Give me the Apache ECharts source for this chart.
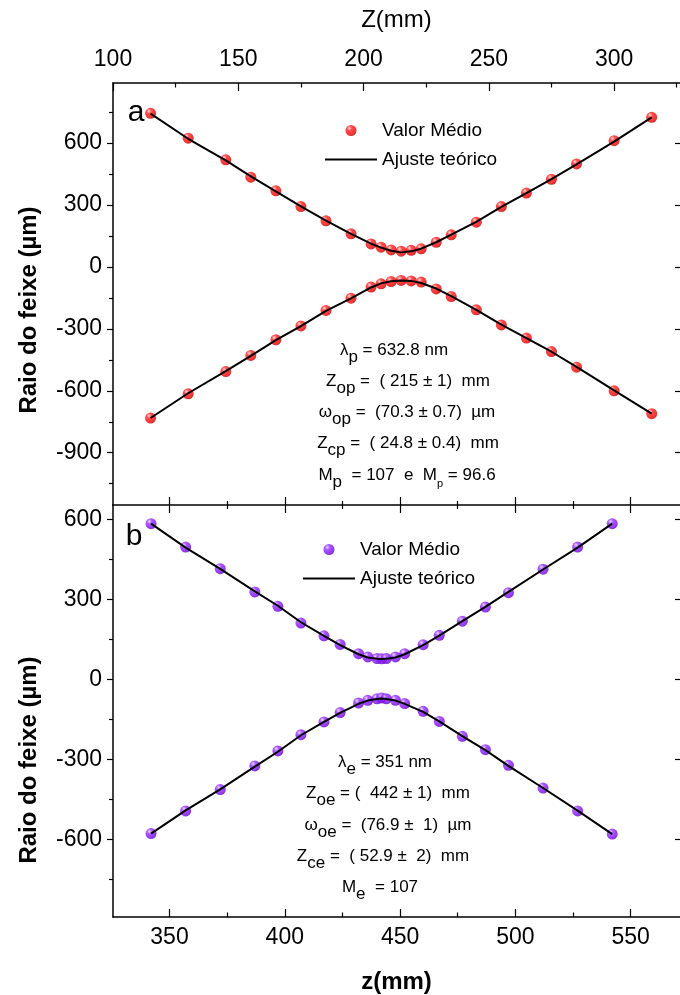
<!DOCTYPE html>
<html>
<head>
<meta charset="utf-8">
<script src="https://cdn.jsdelivr.net/npm/echarts@6/dist/echarts.min.js"></script>
<style>
html, body { margin: 0; padding: 0; background: #fff; }
#main { width: 680px; height: 995px; }
</style>
</head>
<body>
<div id="main"></div>
<script>
// painel a : Z (mm) no eixo de cima
var zA = [115, 130, 145, 155, 165, 175, 185, 195, 203, 207, 211, 215, 219, 223, 229, 235, 245, 255, 265, 275, 285, 300, 315];
var raioAUp = [743, 623, 518, 434, 368, 292, 223, 160, 111, 95, 82, 76, 80, 87, 119, 155, 216, 292, 357, 424, 498, 611, 724];
var raioALow = [-732, -615, -507, -429, -353, -286, -211, -152, -98, -82, -71, -66, -68, -74, -107, -144, -208, -281, -345, -410, -486, -600, -711];
var ajusteAUp = [742, 620, 515, 438, 365, 293, 224, 160, 112, 93, 78, 70, 75, 88, 119, 156, 218, 290, 357, 425, 496, 606, 724];
var ajusteALow = [-732, -612, -505, -431, -355, -287, -213, -153, -100, -80, -70, -66, -68, -78, -105, -142, -208, -280, -345, -411, -484, -598, -711];

// painel b : z (mm) no eixo de baixo
var zB = [342, 357, 372, 387, 397, 407, 417, 424, 432, 436, 440, 442, 444, 448, 452, 460, 467, 477, 487, 497, 512, 527, 542];
var raioBUp = [584, 496, 415, 328, 274, 211, 163, 131, 96, 84, 78, 77, 78, 84, 96, 130, 165, 218, 271, 325, 413, 496, 584];
var raioBLow = [-579, -494, -414, -325, -269, -208, -160, -125, -89, -79, -73, -70, -73, -79, -91, -120, -158, -214, -264, -323, -408, -494, -581];
var ajusteBUp = [584, 494, 414, 330, 276, 214, 163, 128, 94, 82, 77, 76, 77, 82, 94, 128, 164, 218, 272, 328, 412, 494, 584];
var ajusteBLow = [-579, -492, -413, -328, -272, -210, -160, -126, -92, -80, -74, -72, -74, -80, -92, -122, -158, -213, -266, -325, -408, -493, -581];

// ticks
var ticksTopMajor = [100, 150, 200, 250, 300];
var ticksTopMinor = [125, 175, 225, 275, 325];
var ticksBotMajor = [350, 400, 450, 500, 550];
var ticksBotMinor = [375, 425, 475, 525];
var ticksYAMajor = [-900, -600, -300, 0, 300, 600];
var ticksYAMinor = [-1050, -750, -450, -150, 150, 450, 750];
var ticksYBMajor = [-600, -300, 0, 300, 600];
var ticksYBMinor = [-750, -450, -150, 150, 450];

var FONT = '"Liberation Sans", Arial, sans-serif';
var BLACK = '#000';

var redBall = {
    type: 'radial', x: 0.35, y: 0.3, r: 0.75,
    colorStops: [
        {offset: 0, color: '#ffd6d6'}, {offset: 0.3, color: '#ff2020'},
        {offset: 0.8, color: '#ee0000'}, {offset: 1, color: '#a00000'}
    ]
};
var purpleBall = {
    type: 'radial', x: 0.35, y: 0.3, r: 0.75,
    colorStops: [
        {offset: 0, color: '#e6d2ff'}, {offset: 0.3, color: '#9530ff'},
        {offset: 0.8, color: '#7a08f0'}, {offset: 1, color: '#5000a8'}
    ]
};

function pairs(xs, ys) {
    return xs.map(function (x, i) { return [x, ys[i]]; });
}

// eixo so com tracinhos (sem linha, sem rotulo)
function tickOnly(grid, pos, min, max, values, len, inside) {
    return {
        type: 'value', gridIndex: grid, position: pos, min: min, max: max,
        axisLine: {show: false, onZero: false},
        axisTick: {show: true, inside: inside, length: len, customValues: values, lineStyle: {color: BLACK, width: 1.2}},
        axisLabel: {show: false},
        splitLine: {show: false}
    };
}

var labelStyle = {color: BLACK, fontSize: 23, fontFamily: FONT};
var lineStyle = {color: BLACK, width: 1.5};

var topMin = 100, topMax = 326.3;
var botMin = 325.5, botMax = 571.4;
var yAMin = -1153, yAMax = 890;
var yBMin = -892, yBMax = 654;

var xAxes = [
    {   // 0 : Z(mm) em cima
        type: 'value', gridIndex: 0, position: 'top', min: topMin, max: topMax,
        name: 'Z(mm)', nameLocation: 'middle', nameGap: 51,
        nameTextStyle: {color: BLACK, fontSize: 24, fontFamily: FONT},
        axisLine: {onZero: false, lineStyle: lineStyle},
        axisTick: {inside: true, length: 8, customValues: ticksTopMajor, lineStyle: {color: BLACK, width: 1.2}},
        axisLabel: Object.assign({customValues: ticksTopMajor, margin: 12}, labelStyle),
        splitLine: {show: false}
    },
    tickOnly(0, 'top', topMin, topMax, ticksTopMinor, 4.5, true),
    tickOnly(0, 'bottom', botMin, botMax, ticksBotMajor, 8, true),
    tickOnly(0, 'bottom', botMin, botMax, ticksBotMinor, 4, true),
    {   // 4 : z(mm) em baixo
        type: 'value', gridIndex: 1, position: 'bottom', min: botMin, max: botMax,
        name: 'z(mm)', nameLocation: 'middle', nameGap: 53,
        nameTextStyle: {color: BLACK, fontSize: 24, fontWeight: 'bold', fontFamily: FONT},
        axisLine: {onZero: false, lineStyle: lineStyle},
        axisTick: {inside: true, length: 8, customValues: ticksBotMajor, lineStyle: {color: BLACK, width: 1.2}},
        axisLabel: Object.assign({customValues: ticksBotMajor, margin: 9}, labelStyle),
        splitLine: {show: false}
    },
    tickOnly(1, 'bottom', botMin, botMax, ticksBotMinor, 4.5, true),
    {   // 6 : divisoria
        type: 'value', gridIndex: 1, position: 'top', min: botMin, max: botMax,
        axisLine: {onZero: false, lineStyle: lineStyle},
        axisTick: {inside: true, length: 8, customValues: ticksBotMajor, lineStyle: {color: BLACK, width: 1.2}},
        axisLabel: {show: false},
        splitLine: {show: false}
    },
    tickOnly(1, 'top', botMin, botMax, ticksBotMinor, 4, true)
];

var yAxes = [
    {
        type: 'value', gridIndex: 0, position: 'left', min: yAMin, max: yAMax,
        axisLine: {onZero: false, lineStyle: lineStyle},
        axisTick: {inside: false, length: 6, customValues: ticksYAMajor, lineStyle: {color: BLACK, width: 1.2}},
        axisLabel: Object.assign({customValues: ticksYAMajor, margin: 11}, labelStyle),
        splitLine: {show: false}
    },
    tickOnly(0, 'left', yAMin, yAMax, ticksYAMinor, 4, false),
    tickOnly(0, 'right', yAMin, yAMax, ticksYAMajor, 5, true),
    {
        type: 'value', gridIndex: 1, position: 'left', min: yBMin, max: yBMax,
        axisLine: {onZero: false, lineStyle: lineStyle},
        axisTick: {inside: false, length: 6, customValues: ticksYBMajor, lineStyle: {color: BLACK, width: 1.2}},
        axisLabel: Object.assign({customValues: ticksYBMajor, margin: 11}, labelStyle),
        splitLine: {show: false}
    },
    tickOnly(1, 'left', yBMin, yBMax, ticksYBMinor, 4, false),
    tickOnly(1, 'right', yBMin, yBMax, ticksYBMajor, 5, true)
];

function pontos(xIdx, yIdx, data, color) {
    return {
        name: 'Valor Médio', type: 'scatter', xAxisIndex: xIdx, yAxisIndex: yIdx,
        symbol: 'circle', symbolSize: 11, z: 2,
        itemStyle: {color: color},
        data: data
    };
}
function ajuste(xIdx, yIdx, data) {
    return {
        name: 'Ajuste teórico', type: 'line', xAxisIndex: xIdx, yAxisIndex: yIdx,
        symbol: 'none', z: 3, lineStyle: {color: BLACK, width: 2},
        itemStyle: {color: BLACK},
        data: data
    };
}

// texto com subscrito
var rich = {
    n: {fontSize: 17, fontFamily: FONT, color: '#111', verticalAlign: 'top'},
    s: {fontSize: 17, fontFamily: FONT, color: '#111', verticalAlign: 'top', padding: [7, 0, 0, 0]},
    t: {fontSize: 11, fontFamily: FONT, color: '#111', verticalAlign: 'top', padding: [12, 0, 0, 0]}
};
function nota(x, y, txt) {
    return {
        type: 'text', x: x, y: y + 3.5, z: 10,
        style: {text: txt, rich: rich, align: 'center', textAlign: 'center', verticalAlign: 'middle', textVerticalAlign: 'middle'}
    };
}
function texto(x, y, txt, size, weight, rot) {
    return {
        type: 'text', x: x, y: y, rotation: rot || 0, z: 10,
        style: {text: txt, fill: BLACK, font: (weight || 'normal') + ' ' + size + 'px ' + FONT,
            align: 'center', textAlign: 'center', verticalAlign: 'middle', textVerticalAlign: 'middle'}
    };
}

var semPonto = {color: 'rgba(0,0,0,0)', borderWidth: 0};

var myChart = echarts.init(document.getElementById('main'), null, {renderer: 'canvas'});

var option = {
    backgroundColor: '#fff',
    animation: false,
    grid: [
        {left: 113, right: 0, top: 83, height: 422},
        {left: 113, right: 0, top: 505, height: 412}
    ],
    xAxis: xAxes,
    yAxis: yAxes,
    legend: [
        {
            left: 324, top: 121, padding: 0, orient: 'vertical', itemWidth: 52, itemHeight: 11, itemGap: 10,
            selectedMode: false,
            textStyle: {fontSize: 19, fontFamily: FONT, color: BLACK},
            data: [{name: 'Valor Médio', icon: 'circle', itemStyle: {color: redBall}},
                {name: 'Ajuste teórico', itemStyle: semPonto}]
        },
        {
            left: 302, top: 540, padding: 0, orient: 'vertical', itemWidth: 52, itemHeight: 11, itemGap: 10,
            selectedMode: false,
            textStyle: {fontSize: 19, fontFamily: FONT, color: BLACK},
            data: [{name: 'Valor Médio', icon: 'circle', itemStyle: {color: purpleBall}},
                {name: 'Ajuste teórico', itemStyle: semPonto}]
        }
    ],
    graphic: [
        texto(136, 113, 'a', 30),
        texto(134, 537, 'b', 30),
        texto(29, 310, 'Raio do feixe (µm)', 24, 'bold', Math.PI / 2),
        texto(29, 760, 'Raio do feixe (µm)', 24, 'bold', Math.PI / 2),
        nota(394, 350, '{n|λ}{s|p}{n| = 632.8 nm}'),
        nota(408, 381, '{n|Z}{s|op}{n| =  ( 215 ± 1)  mm}'),
        nota(407, 412, '{n|ω}{s|op}{n| =  (70.3 ± 0.7)  µm}'),
        nota(408, 443, '{n|Z}{s|cp}{n| =  ( 24.8 ± 0.4)  mm}'),
        nota(407, 475, '{n|M}{s|p}{n|  = 107  e  M}{t|p}{n| = 96.6}'),
        nota(385, 762, '{n|λ}{s|e}{n| = 351 nm}'),
        nota(388, 793, '{n|Z}{s|oe}{n| = (  442 ± 1)  mm}'),
        nota(388, 825, '{n|ω}{s|oe}{n| =  (76.9 ±  1)  µm}'),
        nota(383, 856, '{n|Z}{s|ce}{n| =  ( 52.9 ±  2)  mm}'),
        nota(380, 887, '{n|M}{s|e}{n|  = 107}')
    ],
    series: [
        pontos(0, 0, pairs(zA, raioAUp), redBall),
        pontos(0, 0, pairs(zA, raioALow), redBall),
        ajuste(0, 0, pairs(zA, ajusteAUp)),
        ajuste(0, 0, pairs(zA, ajusteALow)),
        pontos(4, 3, pairs(zB, raioBUp), purpleBall),
        pontos(4, 3, pairs(zB, raioBLow), purpleBall),
        ajuste(4, 3, pairs(zB, ajusteBUp)),
        ajuste(4, 3, pairs(zB, ajusteBLow))
    ]
};

myChart.setOption(option);
</script>
</body>
</html>
